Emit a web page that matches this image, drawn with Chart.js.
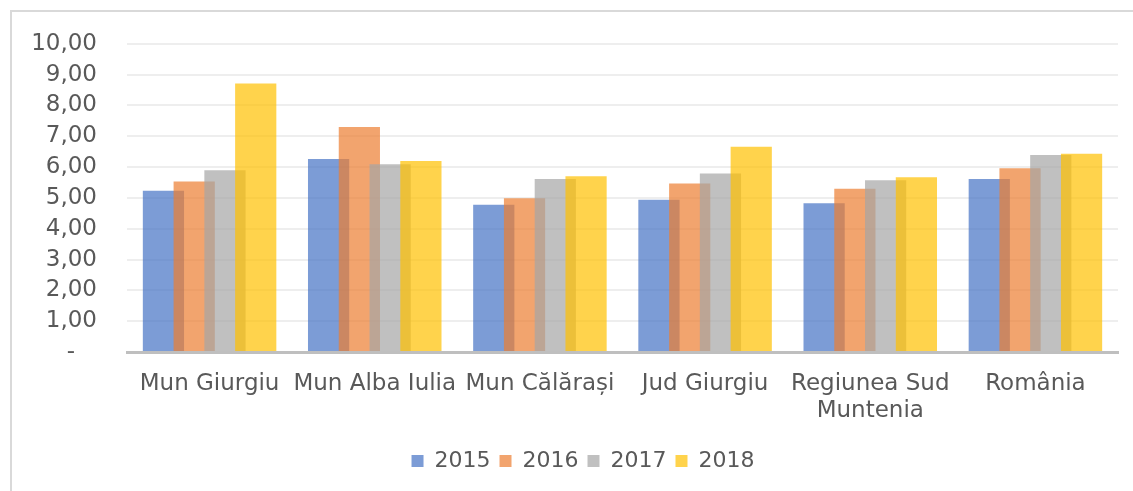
<!DOCTYPE html>
<html>
<head>
<meta charset="utf-8">
<script src="https://cdn.jsdelivr.net/npm/chart.js@4"></script>
<style>
  html, body { margin: 0; padding: 0; background: #fff; overflow: hidden; }
  #wrap { position: relative; width: 1133px; height: 491px; overflow: hidden; }
  #chart { display: block; }
  #frame {
    position: absolute; left: 10px; top: 10px; width: 1140px; height: 500px;
    border-left: 2px solid #D9D9D9; border-top: 2px solid #D9D9D9;
    pointer-events: none;
  }
</style>
</head>
<body>
<div id="wrap">
  <canvas id="chart" width="1133" height="491"></canvas>
  <div id="frame"></div>
</div>
<script>
// date
const categories = ['Mun Giurgiu', 'Mun Alba Iulia', 'Mun Călărași', 'Jud Giurgiu', ['Regiunea Sud', 'Muntenia'], 'România'];
const years = ['2015', '2016', '2017', '2018'];
const v2015 = [5.23, 6.26, 4.78, 4.94, 4.83, 5.61];
const v2016 = [5.53, 7.30, 4.99, 5.47, 5.30, 5.96];
const v2017 = [5.90, 6.09, 5.61, 5.79, 5.57, 6.39];
const v2018 = [8.71, 6.20, 5.70, 6.66, 5.67, 6.43];
const yTicks = [0, 1, 2, 3, 4, 5, 6, 7, 8, 9, 10];

const colors = ['rgba(68,114,196,0.7)', 'rgba(237,125,49,0.7)', 'rgba(165,165,165,0.7)', 'rgba(255,192,0,0.7)'];
const series = [v2015, v2016, v2017, v2018];

const FONT = "'DejaVu Sans', sans-serif";
const TEXT = '#595959';

// Chart.js deseneaza primul set deasupra; aici vrem ordinea inversa (ca in Excel)
const drawInOrder = {
    id: 'drawInOrder',
    beforeDatasetsDraw(chart) {
        chart.getSortedVisibleDatasetMetas().forEach(meta => meta.controller.draw());
        return false;
    }
};

// legenda putin mai la dreapta, centrata pe zona graficului
const legendShift = {
    id: 'legendShift',
    afterLayout(chart) {
        const lg = chart.legend;
        if (lg) { lg.left += 19; lg.right += 19; }
    }
};

const ctx = document.getElementById('chart').getContext('2d');
new Chart(ctx, {
    type: 'bar',
    data: {
        labels: categories,
        datasets: years.map((y, i) => ({
            label: y,
            data: series[i],
            backgroundColor: colors[i],
            borderWidth: 0,
            // bare late, suprapuse
            barPercentage: 1.34,
            categoryPercentage: 0.745
        }))
    },
    options: {
        responsive: false,
        animation: false,
        layout: { padding: { left: 10, right: 15, top: 36, bottom: 9 } },
        scales: {
            x: {
                grid: { display: false },
                border: { color: '#BFBFBF', width: 3 },
                ticks: { color: TEXT, font: { family: FONT, size: 23 }, padding: 10, maxRotation: 0, autoSkip: false },
                afterFit: s => { s.height = 89; }
            },
            y: {
                min: 0,
                max: 10,
                afterBuildTicks: s => { s.ticks = yTicks.map(v => ({ value: v })); },
                grid: { color: '#EEEEEE', lineWidth: 2, drawTicks: false },
                border: { display: false },
                ticks: {
                    color: TEXT,
                    font: { family: FONT, size: 23 },
                    padding: 30,
                    autoSkip: false,
                    callback: v => v === 0 ? '-   ' : v.toFixed(2).replace('.', ',')
                },
                afterFit: s => { s.width = 117; }
            }
        },
        plugins: {
            legend: {
                position: 'bottom',
                labels: {
                    boxWidth: 12,
                    boxHeight: 12,
                    padding: 9,
                    color: TEXT,
                    font: { family: FONT, size: 22 }
                }
            },
            tooltip: { enabled: false }
        }
    },
    plugins: [drawInOrder, legendShift]
});
</script>
</body>
</html>
